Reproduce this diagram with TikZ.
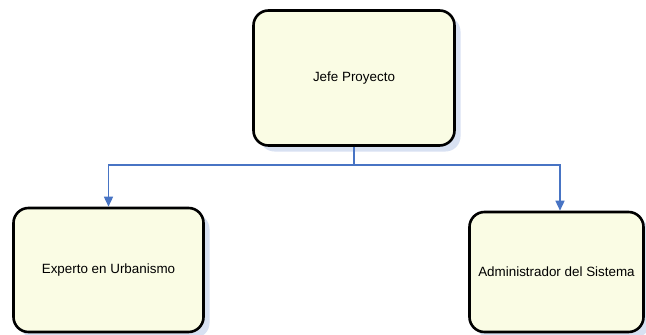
\documentclass[tikz,border=0pt]{standalone}
\usepackage{fontspec}
\setmainfont{Liberation Sans}
\usetikzlibrary{arrows.meta,shadows}

\definecolor{boxfill}{RGB}{250,252,228}
\definecolor{boxshadow}{RGB}{216,225,242}
\definecolor{linkblue}{RGB}{72,116,196}

\begin{document}
\begin{tikzpicture}[x=1pt, y=-1pt,
    role/.style = {draw=black, line width=2.6pt, rounded corners=15pt, fill=boxfill,
                   drop shadow={shadow xshift=6pt, shadow yshift=-6pt, fill=boxshadow, opacity=1},
                   font=\fontsize{13.4}{16}\selectfont, inner sep=0pt},
    link/.style = {draw=linkblue, line width=1.5pt},
    arrow/.style = {link, -{Triangle[width=9pt, length=10pt]}}]

      \useasboundingbox (0,0) rectangle (646,335);

      \node[role, minimum width=201pt, minimum height=135pt] (JEFE) at (354,78) {Jefe Proyecto};
      \node[role, minimum width=190pt, minimum height=124pt] (EXPERTO) at (108.5,270) {Experto en Urbanismo};
      \node[role, minimum width=174pt, minimum height=120pt] (ADMIN) at (556.5,272) {Administrador del Sistema};

      \draw[link] (JEFE.south) -- ++(0,18) coordinate (SPLIT);
      \draw[arrow] (SPLIT) -| (EXPERTO.north);
      \draw[arrow] (SPLIT) -| ([xshift=3.5pt]ADMIN.north);

\end{tikzpicture}
\end{document}
